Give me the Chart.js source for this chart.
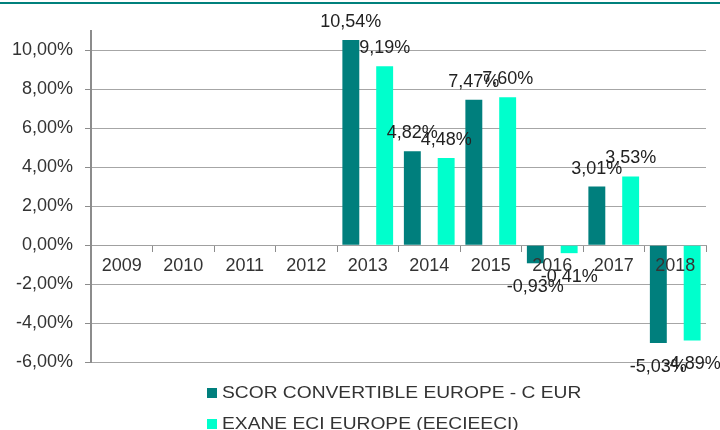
<!DOCTYPE html>
<html>
<head>
<meta charset="utf-8">
<script src="https://cdn.jsdelivr.net/npm/chart.js@4"></script>
<style>
	body { margin: 0; background: #fff; }
	#wrap { position: relative; width: 720px; height: 430px; }
	#topline { position: absolute; left: 0; top: 2px; width: 720px; height: 2px; background: #00807c; }
	#legend { position: absolute; left: 207px; top: 380px; font: 17px 'Liberation Sans', Arial, sans-serif; color: #333; }
	#legend div { height: 31px; line-height: 26px; white-space: nowrap; }
	#legend span.box { display: inline-block; width: 10px; height: 10px; margin-right: 5px; vertical-align: 0px; }
	#legend span.txt { display: inline-block; transform: scaleX(1.13); transform-origin: left center; }
</style>
</head>
<body>
<div id="wrap">
	<div id="topline"></div>
	<canvas id="myChart" width="720" height="430"></canvas>
	<div id="legend"></div>
</div>
<script>
// chart values
const years = ['2009', '2010', '2011', '2012', '2013', '2014', '2015', '2016', '2017', '2018'];
const scorValues = [null, null, null, null, 10.54, 4.82, 7.47, -0.93, 3.01, -5.03];
const exaneValues = [null, null, null, null, 9.19, 4.48, 7.60, -0.41, 3.53, -4.89];
const seriesNames = ['SCOR CONVERTIBLE EUROPE - C EUR', 'EXANE ECI EUROPE (EECIEECI)'];
const yTicks = [-6, -4, -2, 0, 2, 4, 6, 8, 10];
const yMin = -6;
const yMax = 11;

const FONT = "'Liberation Sans', Arial, sans-serif";
const fmt = v => v.toFixed(2).replace('.', ',') + '%';

// value labels above/below each bar
const barLabels = {
	id: 'barLabels',
	afterDatasetsDraw(chart) {
		const ctx = chart.ctx;
		ctx.save();
		ctx.font = '18px ' + FONT;
		ctx.fillStyle = '#222';
		ctx.textAlign = 'center';
		ctx.textBaseline = 'middle';
		chart.data.datasets.forEach((ds, i) => {
			chart.getDatasetMeta(i).data.forEach((bar, j) => {
				const v = ds.data[j];
				if (v === null) return;
				const y = v >= 0 ? bar.y - 18 : bar.y + 24;
				ctx.fillText(fmt(v), bar.x, y);
			});
		});
		ctx.restore();
	}
};

const ctx = document.getElementById('myChart');
const chart = new Chart(ctx, {
	type: 'bar',
	data: {
		labels: years,
		datasets: [{
			label: seriesNames[0],
			data: scorValues,
			backgroundColor: '#007f7d'
		}, {
			label: seriesNames[1],
			data: exaneValues,
			backgroundColor: '#00ffcc'
		}]
	},
	options: {
		responsive: false,
		devicePixelRatio: 1,
		animation: false,
		categoryPercentage: 1.1,
		barPercentage: 0.5,
		layout: { padding: { top: 31, right: 14, bottom: 68, left: 0 } },
		plugins: {
			legend: { display: false },
			tooltip: { enabled: false }
		},
		scales: {
			x: {
				position: { y: 0 },
				afterFit: s => { s.height = 0; },
				grid: { drawOnChartArea: false, drawTicks: true, tickLength: 6, color: '#8c8c8c' },
				border: { color: '#a0a0a0', width: 1 },
				ticks: { z: 1, font: { family: FONT, size: 18 }, color: '#333', padding: 4, maxRotation: 0 }
			},
			y: {
				min: yMin,
				max: yMax,
				afterFit: s => { s.width = 91; },
				afterBuildTicks: s => { s.ticks = yTicks.map(v => ({ value: v })); },
				grid: { color: '#a6a6a6', tickLength: 6, tickColor: '#8c8c8c' },
				border: { color: '#8c8c8c', width: 2 },
				ticks: { font: { family: FONT, size: 18 }, color: '#333', padding: 12, callback: v => fmt(v) }
			}
		}
	},
	plugins: [barLabels]
});

// legend rows, left aligned like the original
const legend = document.getElementById('legend');
chart.data.datasets.forEach(ds => {
	const row = document.createElement('div');
	const box = document.createElement('span');
	box.className = 'box';
	box.style.background = ds.backgroundColor;
	const txt = document.createElement('span');
	txt.className = 'txt';
	txt.textContent = ds.label;
	row.appendChild(box);
	row.appendChild(txt);
	legend.appendChild(row);
});
</script>
</body>
</html>
